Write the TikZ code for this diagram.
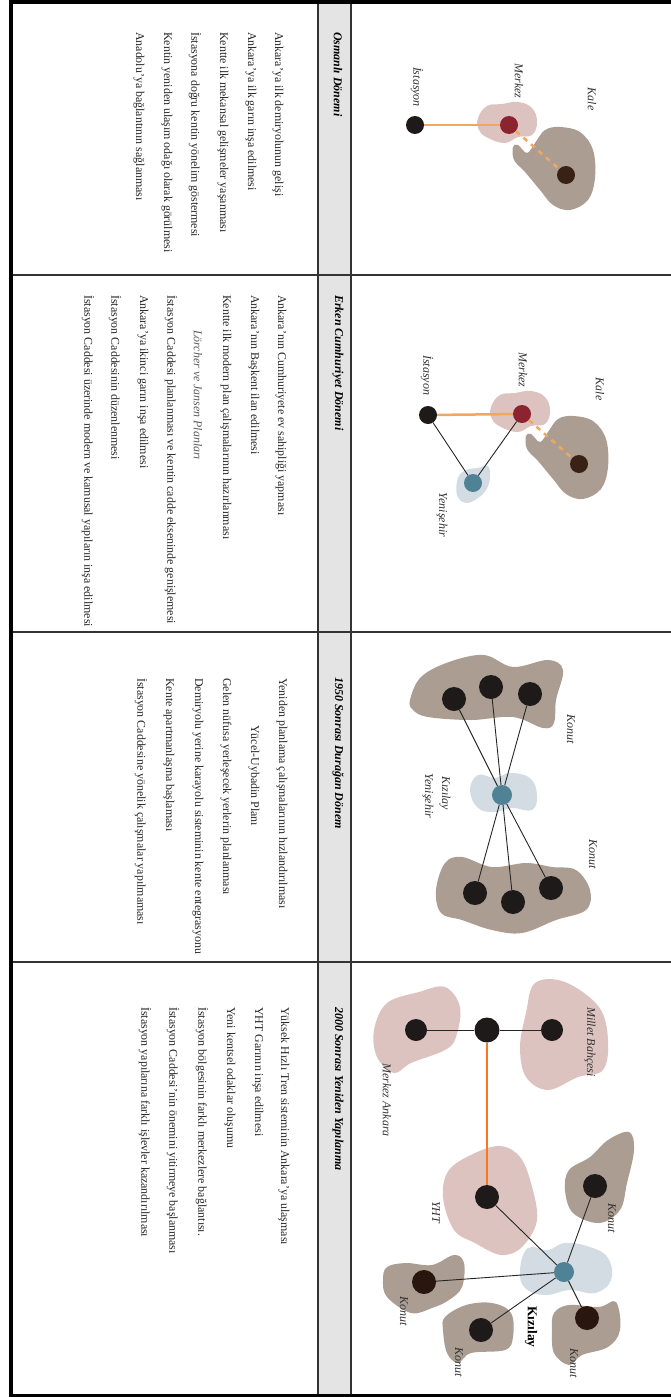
\documentclass[tikz,border=0pt]{standalone}
\usepackage{fontspec}
\setmainfont{Liberation Serif}
\definecolor{konut}{HTML}{AB9D91}
\definecolor{pembe}{HTML}{DDC3C0}
\definecolor{mavi}{HTML}{D4DCE3}
\definecolor{teal}{HTML}{4E8294}
\definecolor{kirmizi}{HTML}{8B2331}
\definecolor{kahve}{HTML}{3A2116}
\definecolor{koyu}{HTML}{1E1A1A}
\definecolor{turuncu}{HTML}{F0A860}
\definecolor{baslik}{HTML}{E4E4E4}
\definecolor{etiket}{HTML}{333333}
\begin{document}
\begin{tikzpicture}[x=1pt, y=-1pt,
    dot/.style={circle, inner sep=0pt, minimum size=18pt},
    txt/.style={rotate=-90, anchor=west, inner sep=0pt, text=black!85, font=\fontsize{11.9}{14}\selectfont},
    head/.style={rotate=-90, anchor=west, inner sep=0pt, font=\bfseries\itshape\fontsize{12}{14}\selectfont},
    lbl/.style={rotate=-90, inner sep=0pt, text=etiket, font=\itshape\fontsize{12}{14}\selectfont},
    sep/.style={draw=black!80, line width=1.2pt},
    rail/.style={draw=turuncu, line width=2.5pt},
    road/.style={draw=black!85, line width=0.9pt}]
    \useasboundingbox (0,0) rectangle (671,1397);

    % Frame
    \fill[baslik] (318,4) rectangle (351,1394);
    \draw[sep] (318,4) -- (318,1394);
    \draw[sep] (351,4) -- (351,1394);
    \draw[sep] (13,275) -- (671,275);
    \draw[sep] (13,632) -- (671,632);
    \draw[sep] (13,962) -- (671,962);
    \draw[line width=4pt] (11,1397) -- (11,2) -- (671,2);
    \draw[line width=2.5pt] (9,1395.5) -- (671,1395.5);

    % Osmanli Donemi
    \fill[pembe] plot[smooth cycle, tension=0.7] coordinates {(478,118) (487,106) (502,104) (518,102) (532,108) (537,122) (532,135) (518,137) (505,143) (488,138) (479,130)};
    \fill[konut] plot[smooth cycle, tension=0.6] coordinates {(513,147) (518,145) (527,153) (535,143) (545,130) (560,127) (580,132) (593,150) (595,178) (588,200) (570,210) (553,205) (540,190) (525,172) (514,160)};
    \node[dot, fill=koyu] (ist1) at (415,125) {};
    \node[dot, fill=kirmizi] (mer1) at (509,125) {};
    \node[dot, fill=kahve] (kal1) at (566,175) {};
    \draw[rail] (ist1) -- (mer1);
    \draw[rail, dash pattern=on 5pt off 5pt] (mer1) -- (kal1);
    \node[lbl] (l-ist1) at (417,87) {İstasyon};
    \node[lbl] (l-mer1) at (519,81) {Merkez};
    \node[lbl] (l-kal1) at (592,99) {Kale};

    \node[head] (h1) at (338,32) {Osmanlı Dönemi};
    \node[txt] (a1) at (278,32) {Ankara’ya ilk demiryolunun gelişi};
    \node[txt] (a2) at (251,32) {Ankara’ya ilk garın inşa edilmesi};
    \node[txt] (a3) at (223,32) {Kentte ilk mekansal gelişmeler yaşanması};
    \node[txt] (a4) at (195,32) {İstasyona doğru kentin yönelim göstermesi};
    \node[txt] (a5) at (167,32) {Kentin yeniden ulaşım odağı olarak görülmesi};
    \node[txt] (a6) at (139,32) {Anadolu’ya bağlantının sağlanması};

    % Erken Cumhuriyet Donemi
    \begin{scope}[shift={(13,289)}]
        \fill[pembe] plot[smooth cycle, tension=0.7] coordinates {(478,118) (487,106) (502,104) (518,102) (532,108) (537,122) (532,135) (518,137) (505,143) (488,138) (479,130)};
        \fill[konut] plot[smooth cycle, tension=0.6] coordinates {(513,147) (518,145) (527,153) (535,143) (545,130) (560,127) (580,132) (593,150) (595,178) (588,200) (570,210) (553,205) (540,190) (525,172) (514,160)};
    \end{scope}
    \fill[mavi] plot[smooth cycle, tension=0.7] coordinates {(458,478) (466,470) (478,468) (488,466) (490,478) (486,490) (478,498) (466,503) (457,495)};
    \node[dot, fill=koyu] (ist2) at (428,415) {};
    \node[dot, fill=kirmizi] (mer2) at (522,414) {};
    \node[dot, fill=kahve] (kal2) at (579,464) {};
    \node[dot, fill=teal] (yen2) at (473,483) {};
    \draw[rail] (ist2) -- (mer2);
    \draw[rail, dash pattern=on 5pt off 5pt] (mer2) -- (kal2);
    \draw[road] (ist2) -- (yen2);
    \draw[road] (mer2) -- (yen2);
    \node[lbl] (l-ist2) at (427,375) {İstasyon};
    \node[lbl] (l-mer2) at (523,370) {Merkez};
    \node[lbl] (l-kal2) at (600,389) {Kale};
    \node[lbl] (l-yen2) at (442,515) {Yenişehir};

    \node[head] (h2) at (338,295) {Erken Cumhuriyet Dönemi};
    \node[txt] (b1) at (281,295) {Ankara’nın Cumhuriyete ev sahipliği yapması};
    \node[txt] (b2) at (254,295) {Ankara’nın Başkent ilan edilmesi};
    \node[txt] (b3) at (226,295) {Kentte ilk modern plan çalışmalarının hazırlanması};
    \node[txt, text=black!65, font=\itshape\fontsize{11.9}{14}\selectfont] (b4) at (198,330) {Lörcher ve Jansen Planları};
    \node[txt] (b5) at (171,295) {İstasyon Caddesi planlanması ve kentin cadde ekseninde genişlemesi};
    \node[txt] (b6) at (143,295) {Ankara’ya ikinci garın inşa edilmesi};
    \node[txt] (b7) at (115,295) {İstasyon Caddesinin düzenlenmesi};
    \node[txt] (b8) at (88,295) {İstasyon Caddesi üzerinde modern ve kamusal yapıların inşa edilmesi};

    % 1950 Sonrasi Duragan Donem
    \fill[konut] plot[smooth cycle, tension=0.6] coordinates {(410,700) (421,677) (449,662) (484,655) (513,667) (548,660) (563,670) (556,700) (554,723) (543,728) (513,717) (471,720) (428,717) (413,710)};
    \fill[konut] plot[smooth cycle, tension=0.6] coordinates {(445,863) (462,857) (492,867) (526,863) (552,867) (576,870) (590,890) (586,910) (556,920) (522,933) (492,930) (462,920) (441,913) (436,890)};
    \fill[mavi] plot[smooth cycle, tension=0.7] coordinates {(470,790) (478,775) (495,778) (510,773) (530,778) (537,795) (532,810) (512,808) (495,812) (478,808)};
    \node[dot, fill=teal, minimum size=20pt] (kiz3) at (502,795) {};
    \node[dot, fill=koyu, minimum size=24pt] (k31) at (454,699) {};
    \node[dot, fill=koyu, minimum size=24pt] (k32) at (491,687) {};
    \node[dot, fill=koyu, minimum size=24pt] (k33) at (530,694) {};
    \node[dot, fill=koyu, minimum size=24pt] (k34) at (475,893) {};
    \node[dot, fill=koyu, minimum size=24pt] (k35) at (513,902) {};
    \node[dot, fill=koyu, minimum size=24pt] (k36) at (551,888) {};
    \draw[road] (kiz3) -- (k31);
    \draw[road] (kiz3) -- (k32);
    \draw[road] (kiz3) -- (k33);
    \draw[road] (kiz3) -- (k34);
    \draw[road] (kiz3) -- (k35);
    \draw[road] (kiz3) -- (k36);
    \node[lbl] (l-kon31) at (571,729) {Konut};
    \node[lbl] (l-kon32) at (593,854) {Konut};
    \node[lbl] (l-kiz3) at (445,793) {Kızılay};
    \node[lbl] (l-yen3) at (428,796) {Yenişehir};

    \node[head] (h3) at (338,677) {1950 Sonrası Durağan Dönem};
    \node[txt] (c1) at (282,678) {Yeniden planlama çalışmalarının hızlandırılması};
    \node[txt] (c2) at (254,725) {Yücel-Uybadin Planı};
    \node[txt] (c3) at (226,678) {Gelen nüfusa yerleşecek yerlerin planlanması};
    \node[txt] (c4) at (198,678) {Demiryolu yerine karayolu sisteminin kente entegrasyonu};
    \node[txt] (c5) at (169,678) {Kente apartmanlaşma başlaması};
    \node[txt] (c6) at (141,678) {İstasyon Caddesine yönelik çalışmalar yapılmaması};

    % 2000 Sonrasi Yeniden Yapilanma
    \fill[pembe] plot[smooth cycle, tension=0.6] coordinates {(374,1030) (387,1003) (419,992) (445,987) (460,1007) (456,1037) (445,1050) (411,1063) (394,1073) (377,1057)};
    \fill[pembe] plot[smooth cycle, tension=0.6] coordinates {(535,983) (565,982) (599,1007) (608,1040) (603,1070) (578,1077) (548,1090) (526,1077) (520,1047) (526,1013)};
    \fill[pembe] plot[smooth cycle, tension=0.6] coordinates {(449,1170) (475,1153) (501,1146) (520,1157) (531,1183) (537,1220) (522,1247) (501,1255) (475,1243) (454,1230) (443,1197)};
    \fill[konut] plot[smooth cycle, tension=0.6] coordinates {(569,1170) (590,1157) (608,1140) (629,1132) (634,1150) (627,1183) (620,1210) (599,1223) (573,1213) (565,1190)};
    \fill[konut] plot[smooth cycle, tension=0.6] coordinates {(387,1267) (406,1263) (432,1265) (454,1255) (464,1263) (462,1287) (449,1300) (432,1308) (411,1313) (387,1297) (383,1280)};
    \fill[konut] plot[smooth cycle, tension=0.6] coordinates {(445,1317) (466,1305) (492,1303) (511,1313) (513,1337) (505,1350) (471,1353) (458,1363) (447,1353) (443,1330)};
    \fill[konut] plot[smooth cycle, tension=0.6] coordinates {(554,1313) (569,1305) (599,1307) (616,1302) (620,1330) (608,1347) (582,1355) (569,1365) (554,1353) (552,1330)};
    \fill[mavi] plot[smooth cycle, tension=0.7] coordinates {(520,1270) (528,1248) (548,1250) (565,1243) (590,1247) (608,1258) (611,1280) (595,1293) (570,1290) (545,1295) (525,1288)};
    \node[dot, fill=koyu, minimum size=22pt] (mrk4) at (416,1030) {};
    \node[dot, fill=koyu, minimum size=25pt] (yht4) at (487,1030) {};
    \node[dot, fill=koyu, minimum size=22pt] (mil4) at (552,1030) {};
    \node[dot, fill=koyu, minimum size=24pt] (gar4) at (487,1197) {};
    \node[dot, fill=teal, minimum size=20pt] (kiz4) at (564,1272) {};
    \node[dot, fill=koyu, minimum size=24pt] (k41) at (595,1186) {};
    \node[dot, fill=kahve!70!black, minimum size=24pt] (k42) at (424,1282) {};
    \node[dot, fill=koyu, minimum size=24pt] (k43) at (481,1330) {};
    \node[dot, fill=kahve!70!black, minimum size=24pt] (k44) at (587,1318) {};
    \draw[road] (mrk4) -- (yht4);
    \draw[road] (yht4) -- (mil4);
    \draw[rail, line width=2pt, draw=orange!80!red!90] (yht4) -- (gar4);
    \draw[road] (kiz4) -- (gar4);
    \draw[road] (kiz4) -- (k41);
    \draw[road] (kiz4) -- (k42);
    \draw[road] (kiz4) -- (k43);
    \draw[road] (kiz4) -- (k44);
    \node[lbl] (l-mrk4) at (387,1100) {Merkez Ankara};
    \node[lbl] (l-mil4) at (590,1042) {Millet Bahçesi};
    \node[lbl] (l-gar4) at (436,1212) {YHT};
    \node[lbl] (l-kon41) at (612,1218) {Konut};
    \node[lbl] (l-kon42) at (404,1311) {Konut};
    \node[lbl] (l-kon43) at (459,1362) {Konut};
    \node[lbl] (l-kon44) at (574,1363) {Konut};
    \node[lbl, text=black, font=\bfseries\fontsize{13.5}{15}\selectfont] (l-kiz4) at (531,1327) {Kızılay};

    \node[head] (h4) at (338,1007) {2000 Sonrası Yeniden Yapılanma};
    \node[txt] (d1) at (284,1007) {Yüksek Hızlı Tren sisteminin Ankara’ya ulaşması};
    \node[txt] (d2) at (258,1007) {YHT Garının inşa edilmesi};
    \node[txt] (d3) at (230,1007) {Yeni kentsel odaklar oluşumu};
    \node[txt] (d4) at (202,1007) {İstasyon bölgesinin farklı merkezlere bağlantısı.};
    \node[txt] (d5) at (173,1007) {İstasyon Caddesi’nin önemini yitirmeye başlanması};
    \node[txt] (d6) at (145,1007) {İstasyon yapılarına farklı işlevler kazandırılması};
\end{tikzpicture}
\end{document}
